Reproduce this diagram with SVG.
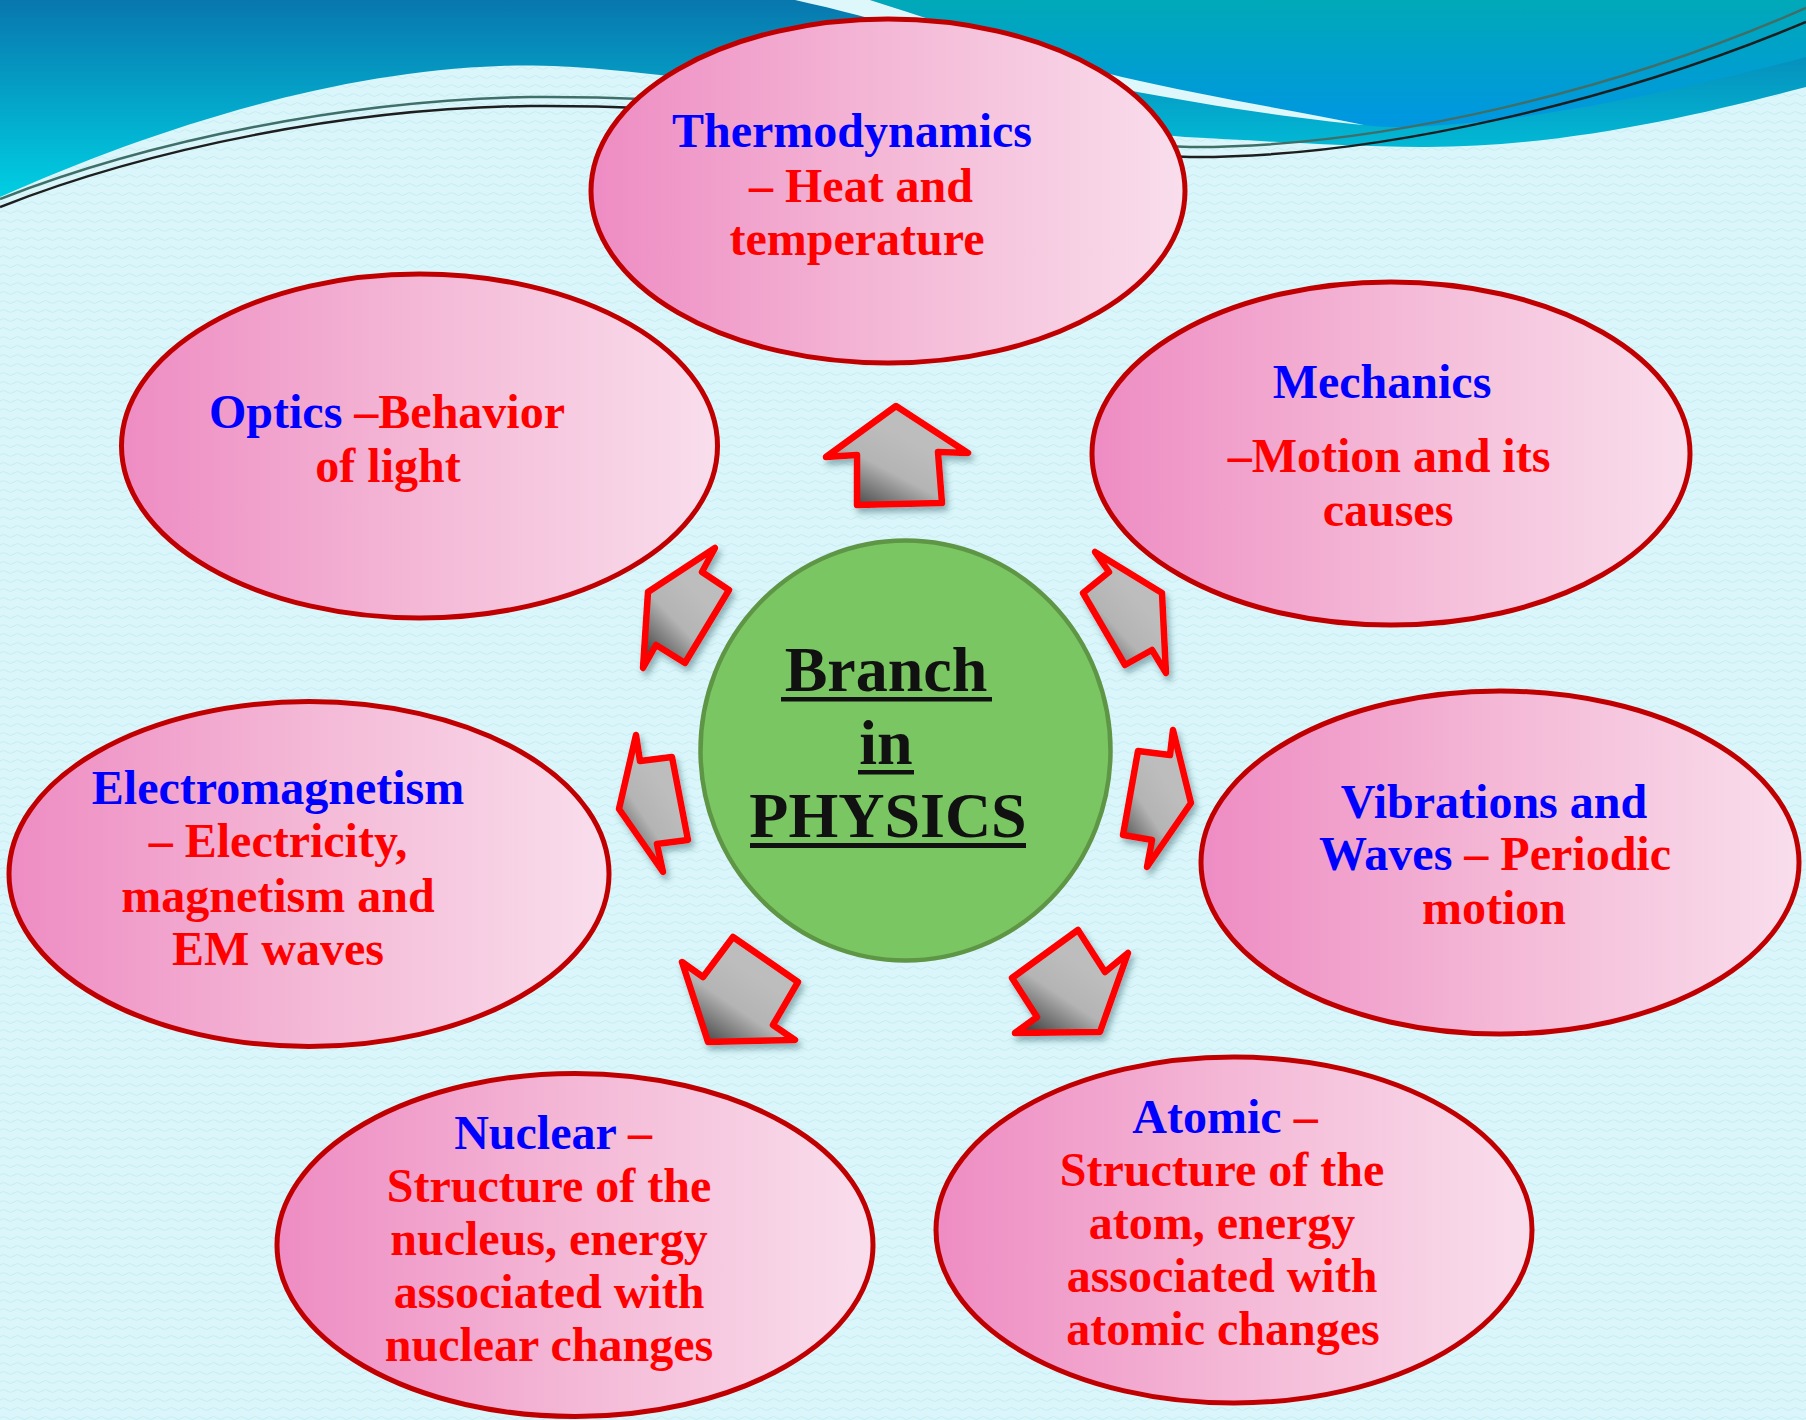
<svg xmlns="http://www.w3.org/2000/svg" width="1806" height="1420" viewBox="0 0 1806 1420">
<defs>
<style>
.t{font-family:"Liberation Serif","Times New Roman",serif;font-weight:bold;font-size:48px;text-anchor:middle}
.b{fill:#0000FF}
.r{fill:#FF0000}
.c{font-family:"Liberation Serif","Times New Roman",serif;font-weight:bold;font-size:64px;text-anchor:middle;fill:#111}
.ell{fill:url(#pink);stroke:#C00000;stroke-width:5}
.arr{fill:url(#gray);stroke:#FF0000;stroke-width:6.5;stroke-linejoin:round;filter:url(#sh)}
</style>
<pattern id="wv" width="14" height="9" patternUnits="userSpaceOnUse">
<rect width="14" height="9" fill="#DAF6FA"/>
<path d="M0,5 Q3.5,2 7,5 T14,5" fill="none" stroke="#C6EDF3" stroke-width="1"/>
</pattern>
<linearGradient id="base" x1="0" y1="0" x2="0" y2="200" gradientUnits="userSpaceOnUse">
<stop offset="0" stop-color="#0877AD"/>
<stop offset="1" stop-color="#00D0E4"/>
</linearGradient>
<linearGradient id="bandR" x1="0" y1="0" x2="0" y2="128" gradientUnits="userSpaceOnUse">
<stop offset="0" stop-color="#00A9B8"/>
<stop offset="1" stop-color="#0096E2"/>
</linearGradient>
<linearGradient id="pink" x1="0" y1="0" x2="1" y2="0">
<stop offset="0" stop-color="#EE8CC3"/>
<stop offset="0.5" stop-color="#F4B8D6"/>
<stop offset="1" stop-color="#F9DEEC"/>
</linearGradient>
<linearGradient id="gray" x1="0.15" y1="0.95" x2="0.6" y2="0.35">
<stop offset="0" stop-color="#4A4A4A"/>
<stop offset="0.55" stop-color="#B4B4B4"/>
<stop offset="1" stop-color="#BDBDBD"/>
</linearGradient>
<filter id="sh" x="-30%" y="-30%" width="160%" height="160%">
<feDropShadow dx="3" dy="5" stdDeviation="3" flood-color="#2A5A66" flood-opacity="0.45"/>
</filter>
</defs>

<g id="background">
<rect width="1806" height="1420" fill="url(#wv)"/>
<path d="M0,0 H1806 V87 C1700,115 1560,148 1421,147 C1330,146 1250,140 1185,137 L900,110 L700,80 C620,70 560,64 500,66 C330,72 150,130 0,197 Z" fill="url(#base)"/>
<path d="M870,0 H1806 V57 C1700,85 1560,118 1430,126 C1400,128 1380,127 1364,125 C1290,110 1200,95 1122,77 C1040,58 950,25 870,0 Z" fill="url(#bandR)"/>
<path d="M795,0 L870,0 C950,25 1040,58 1122,77 C1200,95 1290,110 1364,125 C1290,118 1200,104 1122,89 C1030,70 930,30 795,0 Z" fill="#DDF7FB"/>
<path d="M0,199 C150,140 350,100 530,97 C800,95 1000,140 1190,147 C1380,148 1620,90 1806,8" fill="none" stroke="#3F6F68" stroke-width="2.5"/>
<path d="M0,207 C150,148 350,108 530,106 C800,104 1000,150 1190,157 C1380,158 1620,100 1806,22" fill="none" stroke="#1E1E1E" stroke-width="2.5"/>
</g>

<g id="connectors">
<polygon class="arr" points="896,406 968,453 938,452 942,503 857,505 857,455 826,457"/>
<polygon class="arr" points="715,548 702,572 729,590 685,663 656,645 643,668 648,592"/>
<polygon class="arr" points="1095,552 1109,572 1083,593 1125,665 1152,650 1166,673 1162,593"/>
<polygon class="arr" points="636,735 640,761 672,757 688,840 657,844 663,872 619,809"/>
<polygon class="arr" points="1173,730 1170,755 1138,751 1123,835 1152,840 1147,867 1191,803"/>
<polygon class="arr" points="733,937 798,982 773,1025 795,1040 708,1042 682,962 703,977"/>
<polygon class="arr" points="1078,930 1105,972 1128,953 1100,1032 1015,1033 1037,1017 1012,978"/>
</g>

<g id="center">
<ellipse cx="905.5" cy="750.5" rx="205" ry="210" fill="#7AC663" stroke="#5E9646" stroke-width="4.5"/>
<text class="c" x="886" y="691">Branch</text>
<text class="c" x="886" y="764">in</text>
<text class="c" x="888" y="837">PHYSICS</text>
<rect x="781" y="697" width="211" height="4.5" fill="#111"/>
<rect x="858" y="770" width="56" height="4.5" fill="#111"/>
<rect x="750" y="843" width="276" height="5" fill="#111"/>
</g>

<g id="thermodynamics">
<ellipse class="ell" cx="888" cy="191" rx="297" ry="172"/>
<text class="t b" x="852" y="147">Thermodynamics</text>
<text class="t r" x="861" y="202">– Heat and</text>
<text class="t r" x="857" y="255">temperature</text>
</g>

<g id="optics">
<ellipse class="ell" cx="419.5" cy="446" rx="298" ry="172"/>
<text class="t" x="387" y="428"><tspan class="b">Optics </tspan><tspan class="r">–Behavior</tspan></text>
<text class="t r" x="388" y="482">of light</text>
</g>

<g id="mechanics">
<ellipse class="ell" cx="1391" cy="453.5" rx="299" ry="171.5"/>
<text class="t b" x="1382" y="398">Mechanics</text>
<text class="t r" x="1389" y="472">–Motion and its</text>
<text class="t r" x="1388" y="526">causes</text>
</g>

<g id="electromagnetism">
<ellipse class="ell" cx="309" cy="874" rx="300" ry="172.5"/>
<text class="t b" x="278" y="804">Electromagnetism</text>
<text class="t r" x="278" y="857">– Electricity,</text>
<text class="t r" x="278" y="912">magnetism and</text>
<text class="t r" x="278" y="965">EM waves</text>
</g>

<g id="vibrations">
<ellipse class="ell" cx="1500" cy="862.5" rx="299" ry="171.5"/>
<text class="t b" x="1494" y="818">Vibrations and</text>
<text class="t" x="1495" y="870"><tspan class="b">Waves </tspan><tspan class="r">– Periodic</tspan></text>
<text class="t r" x="1494" y="924">motion</text>
</g>

<g id="nuclear">
<ellipse class="ell" cx="575" cy="1245" rx="298" ry="171.5"/>
<text class="t" x="553" y="1149"><tspan class="b">Nuclear </tspan><tspan class="r">–</tspan></text>
<text class="t r" x="549" y="1202">Structure of the</text>
<text class="t r" x="549" y="1255">nucleus, energy</text>
<text class="t r" x="549" y="1308">associated with</text>
<text class="t r" x="549" y="1361">nuclear changes</text>
</g>

<g id="atomic">
<ellipse class="ell" cx="1234" cy="1230" rx="298" ry="173"/>
<text class="t" x="1225" y="1133"><tspan class="b">Atomic </tspan><tspan class="r">–</tspan></text>
<text class="t r" x="1222" y="1186">Structure of the</text>
<text class="t r" x="1222" y="1239">atom, energy</text>
<text class="t r" x="1222" y="1292">associated with</text>
<text class="t r" x="1223" y="1345">atomic changes</text>
</g>
</svg>
